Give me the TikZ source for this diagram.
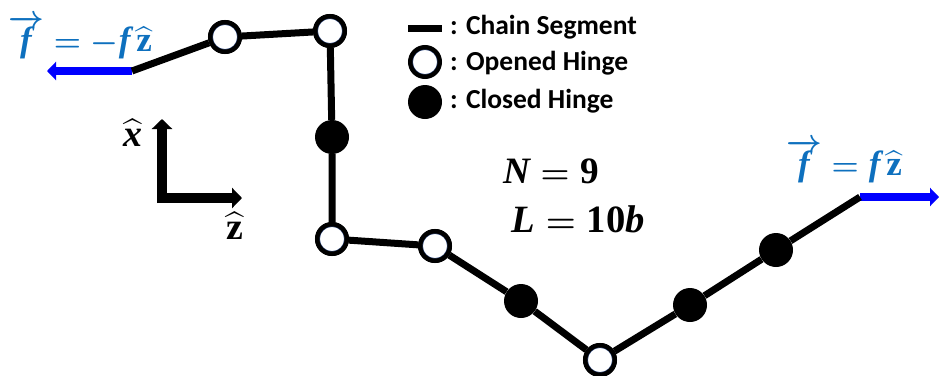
\documentclass[tikz,border=0pt]{standalone}
\usepackage{amsmath}
\usepackage{fontspec}
\setmainfont{Carlito}
\newfontfamily\glyphserif{Liberation Serif}
\newcommand{\gi}[1]{\hbox{\glyphserif\bfseries\itshape #1}}
\newcommand{\gb}[1]{\hbox{\glyphserif\bfseries #1}}
\usetikzlibrary{arrows.meta}
\definecolor{forceblue}{RGB}{14,112,190}
\definecolor{rimblue}{RGB}{60,85,140}
\tikzset{
  x=1pt,y=-1pt,
  segment/.style={line width=7pt,black},
  openhinge/.style={circle,draw=black,line width=4.5pt,fill=white,minimum size=29.5pt,inner sep=0pt,
    path picture={\draw[rimblue,line width=1pt] (path picture bounding box.center) circle (12.6pt);}},
  closedhinge/.style={circle,fill=black,draw=none,minimum size=34pt,inner sep=0pt},
  force/.style={line width=8pt,blue,-{Triangle[length=9pt,width=18pt]}},
  axis/.style={line width=9.5pt,black,-{Triangle[length=10pt,width=20pt]}},
  legendtxt/.style={font=\bfseries\fontsize{27.5}{32}\selectfont,anchor=west,inner sep=0pt},
  mathtxt/.style={font=\fontsize{28}{32}\selectfont,inner sep=0pt},
  forcetxt/.style={mathtxt,text=forceblue}
}
\begin{document}
\begin{tikzpicture}
\useasboundingbox (0,0) rectangle (939,375);
\coordinate (s) at (132,71);
\coordinate (e) at (860,197);
\coordinate (fl) at (47,71);
\coordinate (fr) at (939,197);
\coordinate (oz) at (157.5,198);
\coordinate (ox) at (162,203);
\coordinate (ax) at (162,119);
\coordinate (az) at (242,198);
\coordinate (l1) at (408,28);
\coordinate (l2) at (442,28);
\node[openhinge] (h1) at (225,37) {};
\node[openhinge] (h2) at (330,31) {};
\node[closedhinge] (h3) at (332,137) {};
\node[openhinge] (h4) at (332,239) {};
\node[openhinge] (h5) at (435,246) {};
\node[closedhinge] (h6) at (521,301) {};
\node[openhinge] (h7) at (600,360) {};
\node[closedhinge] (h8) at (690,305) {};
\node[closedhinge] (h9) at (776,250) {};
\draw[force] (s) -- (fl);
\draw[force] (e) -- (fr);
\draw[segment] (s) -- (h1) -- (h2) -- (h3) -- (h4) -- (h5) -- (h6) -- (h7) -- (h8) -- (h9) -- (e);
\foreach \hn in {h1,h2,h4,h5,h7} \node[openhinge] at (\hn) {};
\draw[axis] (ox) -- (ax);
\draw[axis] (oz) -- (az);
\draw[line width=7pt] (l1) -- (l2);
\node[openhinge] (lo) at (425,62) {};
\node[closedhinge] (lc) at (425,102) {};
\node[legendtxt] (t1) at (450,27) {: Chain Segment};
\node[legendtxt] (t2) at (450,63) {: Opened Hinge};
\node[legendtxt] (t3) at (450,101) {: Closed Hinge};
\node[mathtxt] (nn) at (551,171) {\scalebox{1.33}{\boldmath$\gi{N}=\gb{9}$}};
\node[mathtxt] (ll) at (578,219) {\scalebox{1.38}{\boldmath$\gi{L}=\gb{10}\gi{b}$}};
\node[forcetxt] (f1) at (80,37) {\scalebox{1.25}{\boldmath$\overrightarrow{\gi{f}}=-\gi{f}\,\widehat{\gb{z}}$}};
\node[forcetxt] (f2) at (844,161) {\scalebox{1.25}{\boldmath$\overrightarrow{\gi{f}}=\gi{f}\,\widehat{\gb{z}}$}};
\node[mathtxt] (xl) at (133,133) {\scalebox{1.35}{\boldmath$\widehat{\gi{x}}$}};
\node[mathtxt] (zl) at (235,226) {\scalebox{1.35}{\boldmath$\widehat{\gb{z}}$}};
\end{tikzpicture}
\end{document}
